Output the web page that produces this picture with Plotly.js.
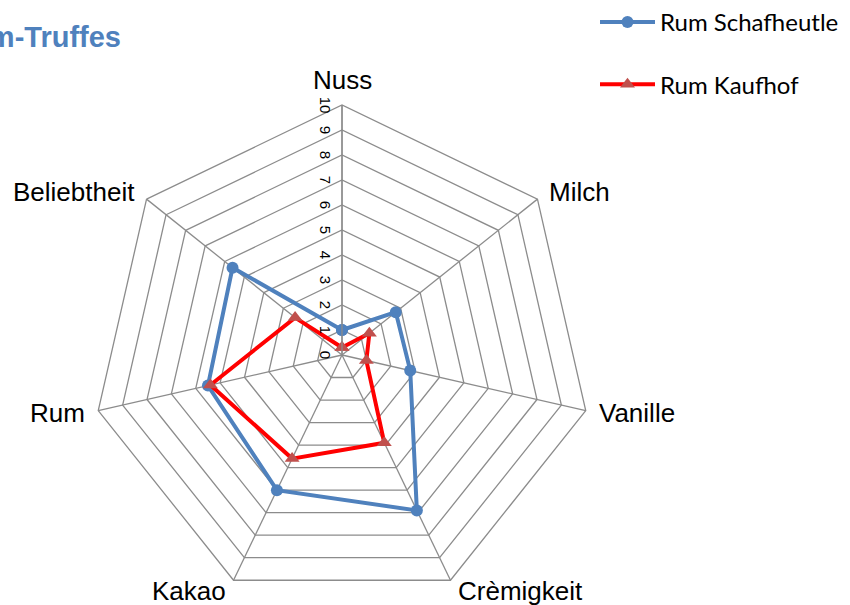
<!DOCTYPE html>
<html>
<head>
<meta charset="utf-8">
<script src="https://cdn.plot.ly/plotly-3.0.1.min.js"></script>
<style>html,body{margin:0;padding:0;background:#fff}#chart{width:850px;height:605px}</style>
</head>
<body>
<div id="chart"></div>
<script>
const categories = ["Nuss", "Milch", "Vanille", "Crèmigkeit", "Kakao", "Rum", "Beliebtheit"];
const seriesNames = ["Rum Schafheutle", "Rum Kaufhof"];
const schafheutle = [1, 2.75, 2.8, 6.9, 6, 5.5, 5.6];
const kaufhof = [0.3, 1.4, 1.0, 3.9, 4.6, 5.4, 2.4];
const radialTicks = [0, 1, 2, 3, 4, 5, 6, 7, 8, 9, 10];
const chartTitle = "Rum-Truffes";

function closed(a) { return a.concat([a[0]]); }

const traces = [
  {
    type: "scatterpolar", mode: "lines+markers", name: seriesNames[0],
    r: closed(schafheutle), theta: closed(categories),
    line: {color: "#4f81bd", width: 4},
    marker: {symbol: "circle", size: 12, color: "#4f81bd"},
    legendgroup: "a"
  },
  {
    type: "scatterpolar", mode: "lines+markers", name: seriesNames[1],
    r: closed(kaufhof), theta: closed(categories),
    line: {color: "#ff0000", width: 4},
    marker: {symbol: "triangle-up", size: 13, color: "#c0504d"},
    legendgroup: "b"
  }
];

// Category labels placed just outside each vertex of the outer heptagon
const plotSize = 500; // polar area in px (square)
const categoryLabels = categories.map(function (c, i) {
  const ang = (90 - i * 360 / categories.length) * Math.PI / 180;
  const cs = Math.cos(ang), sn = Math.sin(ang);
  let xa = "center", ya = "middle";
  let gap = 12;
  if (Math.abs(cs) >= 0.1) xa = cs > 0 ? "left" : "right";
  else { ya = sn > 0 ? "bottom" : "top"; gap = 8; }
  const px = (plotSize / 2 + gap) * cs;
  const py = (plotSize / 2 + gap) * sn;
  return {
    text: c, showarrow: false, xref: "paper", yref: "paper",
    x: 0.5 + px / plotSize, y: 0.5 + py / plotSize,
    xanchor: xa, yanchor: ya,
    font: {family: "Liberation Sans, Arial, sans-serif", size: 26, color: "#000"}
  };
});

const layout = {
  width: 850, height: 605,
  margin: {l: 92, r: 258, t: 105, b: 0},
  paper_bgcolor: "#ffffff",
  font: {family: "Liberation Sans, Arial, sans-serif", color: "#000"},
  title: {
    text: "<b>" + chartTitle + "</b>",
    xref: "container", yref: "container",
    x: 121 / 850, xanchor: "right",
    y: 1 - 37 / 605, yanchor: "middle",
    font: {family: "Liberation Sans, Arial, sans-serif", size: 29, color: "#4f81bd"}
  },
  showlegend: true,
  legend: {
    xref: "container", yref: "container",
    x: 595 / 850, xanchor: "left",
    y: 1, yanchor: "top",
    traceorder: "grouped", tracegroupgap: 28,
    itemwidth: 55,
    font: {family: "Lato, sans-serif", size: 24, color: "#000"},
    bgcolor: "rgba(0,0,0,0)"
  },
  annotations: categoryLabels,
  polar: {
    gridshape: "linear",
    bgcolor: "#ffffff",
    domain: {x: [0, 1], y: [0, 1]},
    angularaxis: {
      rotation: 90, direction: "clockwise",
      categoryarray: categories, categoryorder: "array",
      linecolor: "#8c8c8c", linewidth: 1.3,
      gridcolor: "#8c8c8c", gridwidth: 1.3,
      showline: true, ticks: "", showticklabels: false
    },
    radialaxis: {
      range: [0, 10], tickvals: radialTicks, ticktext: radialTicks.map(String),
      angle: 90, side: "counterclockwise", tickangle: 180,
      showline: true, linecolor: "#8c8c8c", linewidth: 1.3,
      gridcolor: "#8c8c8c", gridwidth: 1.3,
      ticks: "",
      tickfont: {family: "Liberation Sans, Arial, sans-serif", size: 15, color: "#000"}
    }
  }
};

Plotly.newPlot("chart", traces, layout, {staticPlot: true, displayModeBar: false});
</script>
</body>
</html>
